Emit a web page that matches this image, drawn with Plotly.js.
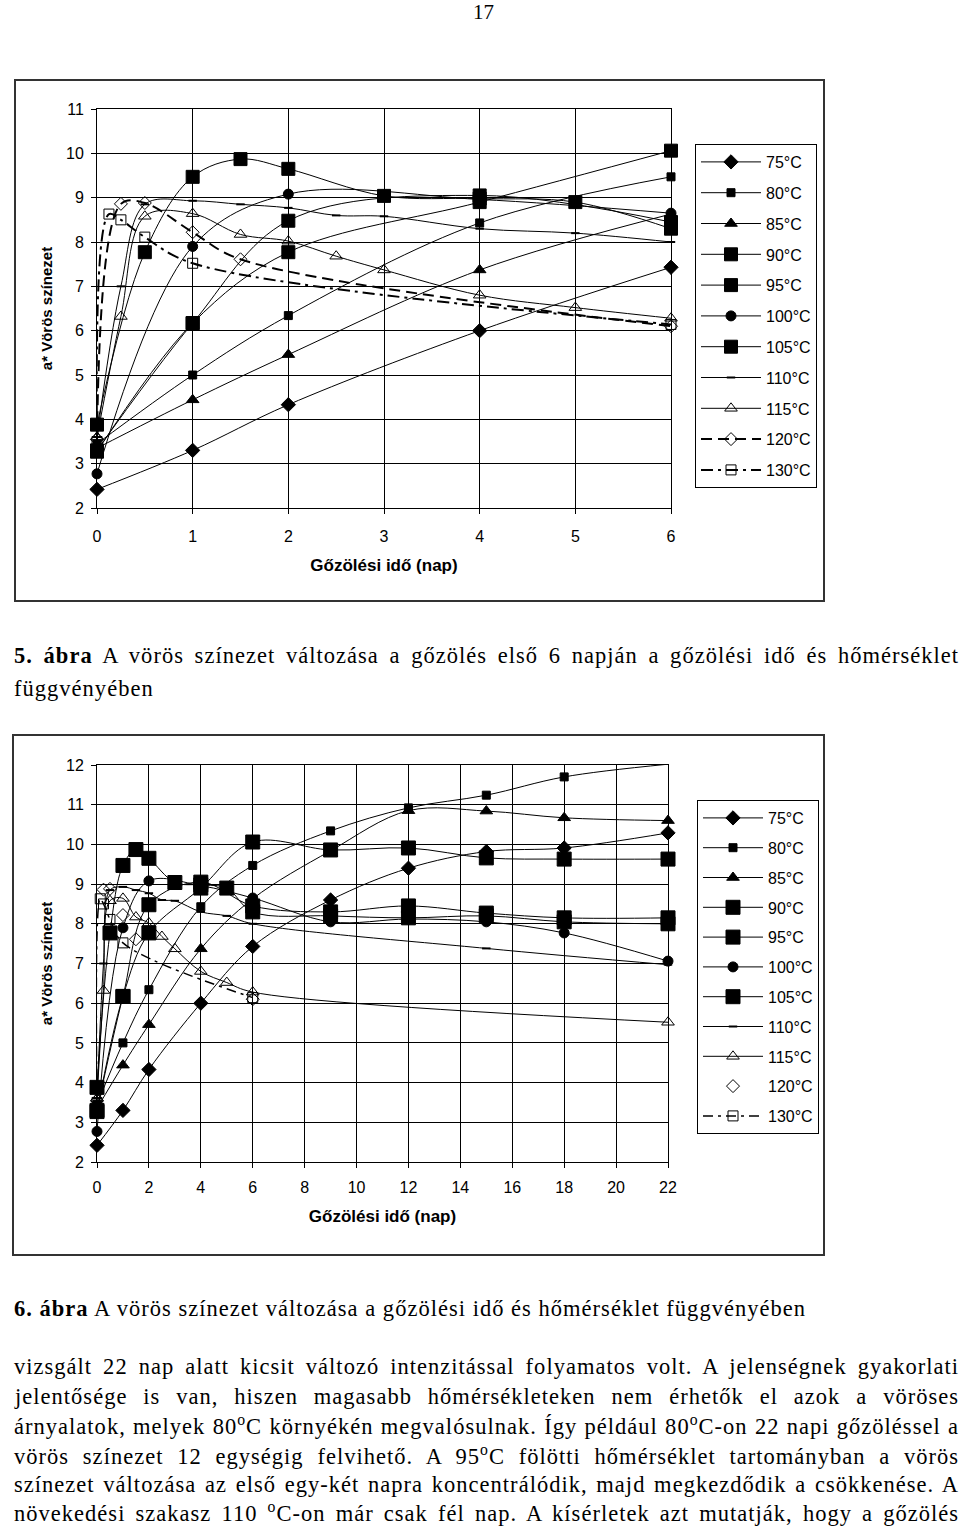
<!DOCTYPE html>
<html><head><meta charset="utf-8">
<script src="https://cdn.plot.ly/plotly-3.0.1.min.js"></script>
<style>html,body{margin:0;padding:0;background:#fff}</style>
</head><body><div id="chart" style="width:960px;height:1526px"></div>
<script>
// ---------------- DATA ----------------
const tempNames = ['75°C','80°C','85°C','90°C','95°C','100°C','105°C','110°C','115°C','120°C','130°C'];
const daysStd = [0, 1, 2, 4, 6, 9, 12, 15, 18, 22];
const red75  = [2.42, 3.30, 4.33, 6.00, 7.43, 8.60, 9.40, 9.82, 9.91, 10.29];
const red80  = [3.45, 5.00, 6.34, 8.43, 9.47, 10.34, 10.92, 11.24, 11.70, 12.02];
const red85  = [3.35, 4.44, 5.46, 7.37, 8.63, 9.84, 10.85, 10.84, 10.67, 10.60];
const red90  = [3.27, 6.17, 7.77, 8.90, 10.06, 9.86, 9.91, 9.66, 9.63, 9.63];
const red95  = [3.30, 6.17, 8.48, 9.05, 8.45, 8.30, 8.45, 8.27, 8.15, 8.15];
const red100 = [2.77, 7.90, 9.08, 8.96, 8.65, 8.05, 8.12, 8.05, 7.77, 7.06];
const days105 = [0, 0.5, 1, 1.5, 2, 3, 4, 5, 6, 9, 12, 15, 18, 22];
const red105  = [3.88, 7.77, 9.47, 9.87, 9.65, 9.04, 8.98, 8.90, 8.30, 8.20, 8.15, 8.20, 8.05, 8.00];
const days110 = [0, 0.25, 0.5, 1, 1.5, 2, 2.5, 3, 4, 5, 6, 15, 22];
const red110  = [3.60, 7.00, 8.85, 8.93, 8.85, 8.77, 8.60, 8.58, 8.30, 8.20, 8.00, 7.38, 6.97];
const days115 = [0, 0.25, 0.5, 1, 1.5, 2, 2.5, 3, 4, 5, 6, 22];
const red115  = [3.60, 6.32, 8.58, 8.64, 8.17, 8.02, 7.68, 7.37, 6.80, 6.52, 6.28, 5.52];
const days120 = [0, 0.25, 0.5, 1, 1.5, 6];
const red120  = [3.55, 8.86, 8.88, 8.22, 7.61, 6.10];
const days130 = [0, 0.125, 0.25, 0.5, 1, 6];
const red130  = [3.50, 8.63, 8.50, 8.11, 7.52, 6.14];
const xTicks1 = [0, 1, 2, 3, 4, 5, 6];
const xTicks2 = [0, 2, 4, 6, 8, 10, 12, 14, 16, 18, 20, 22];
const xTitle = 'Gőzölési idő (nap)';
const yTitle = 'a* Vörös színezet';

// ---------------- STYLE ----------------
const SANS = '"Liberation Sans", Arial, sans-serif';
const SERIF = '"Liberation Serif", "Times New Roman", serif';
const seriesData = [
  [daysStd, red75], [daysStd, red80], [daysStd, red85], [daysStd, red90], [daysStd, red95],
  [daysStd, red100], [days105, red105], [days110, red110], [days115, red115], [days120, red120], [days130, red130]
];
const styles = [
  {sym:'diamond', size:11},
  {sym:'square', size:8},
  {sym:'triangle-up', size:11},
  {sym:'square', size:13},
  {sym:'square', size:13},
  {sym:'circle', size:10},
  {sym:'square', size:13},
  {sym:'line-ew', size:6, lw:2},
  {sym:'triangle-up-open', size:11},
  {sym:'diamond-open', size:10, dash1:'11px,6px', w1:2, markersOnly2:true},
  {sym:'square-open', size:10, dash1:'12px,5px,3px,5px', w1:2, dash2:'10px,5px,3px,5px', w2:1.5}
];

const traces = [];
function addChart(idx, xa, ya, legendId, maxDay, bigSize) {
  seriesData.forEach((sd, i) => {
    const st = styles[i];
    const xs = [], ys = [];
    sd[0].forEach((d, k) => { if (d <= maxDay) { xs.push(d); ys.push(sd[1][k]); } });
    const mOnly = idx === 2 && st.markersOnly2;
    let dash = 'solid', w = 1;
    if (idx === 1 && st.dash1) { dash = st.dash1; w = st.w1; }
    if (idx === 2 && st.dash2) { dash = st.dash2; w = st.w2; }
    let size = st.size;
    if (idx === 2 && size === 13) size = bigSize;
    traces.push({
      type: 'scatter', x: xs, y: ys, xaxis: xa, yaxis: ya,
      name: tempNames[i], legend: legendId, legendgroup: legendId + i,
      mode: mOnly ? 'markers' : 'lines+markers', cliponaxis: false,
      line: {color: '#000', width: w, dash: dash, shape: 'spline', smoothing: 1},
      marker: {symbol: st.sym, size: size, color: '#000',
               line: {color: '#000', width: st.lw || 1}}
    });
  });
}
addChart(1, 'x', 'y', 'legend', 6, 13);
addChart(2, 'x2', 'y2', 'legend2', 22, 14);

// ---------------- TEXT ----------------
const BODY = 22.5;
const LEFT = 13, RIGHT = 958, CAP6_WIDTH = 792;
const textLines = [
  {t: '17', y: 12, x: 483, center: true},
  {t: '<b>5. ábra</b> A vörös színezet változása a gőzölés első 6 napján a gőzölési idő és hőmérséklet', y: 655, j: true},
  {t: 'függvényében', y: 688},
  {t: '<b>6. ábra</b> A vörös színezet változása a gőzölési idő és hőmérséklet függvényében', y: 1308, cal: true},
  {t: 'vizsgált 22 nap alatt kicsit változó intenzitással folyamatos volt. A jelenségnek gyakorlati', y: 1366, j: true},
  {t: 'jelentősége is van, hiszen magasabb hőmérsékleteken nem érhetők el azok a vöröses', y: 1396, j: true},
  {t: 'árnyalatok, melyek 80<sup>o</sup>C környékén megvalósulnak. Így például 80<sup>o</sup>C-on 22 napi gőzöléssel a', y: 1425, j: true},
  {t: 'vörös színezet 12 egységig felvihető. A 95<sup>o</sup>C fölötti hőmérséklet tartományban a vörös', y: 1455, j: true},
  {t: 'színezet változása az első egy-két napra koncentrálódik, majd megkezdődik a csökkenése. A', y: 1484, j: true},
  {t: 'növekedési szakasz 110 <sup>o</sup>C-on már csak fél nap. A kísérletek azt mutatják, hogy a gőzölés', y: 1512, j: true}
];
const annotations = textLines.map(L => ({
  xref: 'paper', yref: 'paper',
  x: (L.x !== undefined ? L.x : LEFT) / 960, y: 1 - L.y / 1526,
  xanchor: L.center ? 'center' : 'left', yanchor: 'middle', align: L.center ? 'center' : 'left',
  borderpad: 0,
  text: L.t, showarrow: false, font: {family: SERIF, size: L.center ? 21 : BODY, color: '#000'}
}));

// ---------------- LAYOUT ----------------
function px(x) { return x / 960; }
function py(y) { return 1 - y / 1526; }
const axisCommon = {
  showline: true, mirror: true, linecolor: '#000', linewidth: 1,
  showgrid: true, gridcolor: '#000', gridwidth: 1, zeroline: false,
  ticks: 'outside', ticklen: 5, tickcolor: '#000', tickwidth: 1,
  tickfont: {family: SANS, size: 16, color: '#000'}, automargin: false
};
const xTitleObj = (s) => ({text: xTitle, font: {family: SANS, size: 17, color: '#000', weight: 'bold'}, standoff: s});
const yTitleObj = (s) => ({text: yTitle, font: {family: SANS, size: 15, color: '#000', weight: 'bold'}, standoff: s});
const legendCommon = {
  xanchor: 'left', yanchor: 'top', bgcolor: '#fff', bordercolor: '#000', borderwidth: 1,
  font: {family: SANS, size: 16, color: '#000'}, tracegroupgap: 7, itemwidth: 60
};
const layout = {
  width: 960, height: 1526, margin: {l: 0, r: 0, t: 0, b: 0},
  paper_bgcolor: '#fff', plot_bgcolor: '#fff', showlegend: true,
  xaxis: Object.assign({}, axisCommon, {domain: [px(97), px(671)], range: [0, 6], tickvals: xTicks1,
          anchor: 'y', ticklabelstandoff: 9, title: xTitleObj(14)}),
  yaxis: Object.assign({}, axisCommon, {domain: [py(508), py(109)], range: [2, 11], dtick: 1, tick0: 2,
          anchor: 'x', ticklabelstandoff: 4, title: yTitleObj(9)}),
  xaxis2: Object.assign({}, axisCommon, {domain: [px(97), px(668)], range: [0, 22], tickvals: xTicks2,
          anchor: 'y2', ticklabelstandoff: 6, title: xTitleObj(14)}),
  yaxis2: Object.assign({}, axisCommon, {domain: [py(1162), py(765)], range: [2, 12], dtick: 1, tick0: 2,
          anchor: 'x2', ticklabelstandoff: 4, title: yTitleObj(9)}),
  legend: Object.assign({}, legendCommon, {x: px(695), y: py(144)}),
  legend2: Object.assign({}, legendCommon, {x: px(697), y: py(800), tracegroupgap: 6}),
  shapes: [
    {type: 'rect', xref: 'paper', yref: 'paper', x0: px(15), x1: px(824), y0: py(601), y1: py(80),
     line: {color: '#333', width: 2}},
    {type: 'rect', xref: 'paper', yref: 'paper', x0: px(13), x1: px(824), y0: py(1255), y1: py(735),
     line: {color: '#333', width: 2}}
  ],
  annotations: annotations
};

Plotly.newPlot('chart', traces, layout, {staticPlot: true}).then(gd => {
  const els = gd.querySelectorAll('.annotation-text');
  // the scanned serif face is a little wider than Liberation Serif: match the
  // printed width of the 6th caption with a small letter spacing
  const ci = textLines.findIndex(L => L.cal);
  let ls = 0;
  if (els[ci]) {
    const w = els[ci].getBBox().width;
    const n = els[ci].textContent.length;
    if (w > 0 && n > 0) ls = Math.max(0, Math.min(1.5, (CAP6_WIDTH - w) / n));
  }
  textLines.forEach((L, i) => {
    const el = els[i];
    if (!el || L.center) return;
    el.style.letterSpacing = ls.toFixed(3) + 'px';
    if (!L.j) return;
    el.style.wordSpacing = '0px';
    const w = el.getBBox().width;
    const n = (el.textContent.match(/ /g) || []).length;
    if (n > 0 && w > 0) el.style.wordSpacing = Math.max(0, (RIGHT - LEFT - w) / n).toFixed(2) + 'px';
  });
});
</script></body></html>
